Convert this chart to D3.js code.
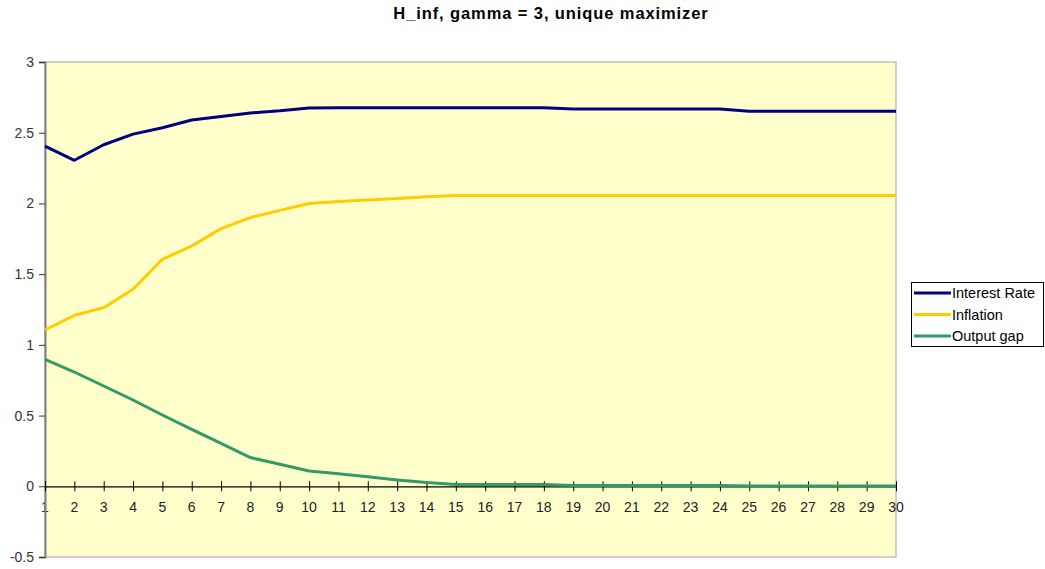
<!DOCTYPE html>
<html><head><meta charset="utf-8">
<script src="https://cdn.jsdelivr.net/npm/d3@7"></script>
<style>body{margin:0;background:#fff;} text{font-family:"Liberation Sans",Arial,sans-serif;}</style>
</head><body>
<svg id="c" width="1045" height="569"></svg>
<script>
const periods = d3.range(1, 31);
const interestRate = [2.405,2.305,2.415,2.49,2.535,2.59,2.615,2.64,2.655,2.675,2.677,2.677,2.677,2.677,2.677,2.677,2.677,2.677,2.668,2.668,2.668,2.668,2.668,2.668,2.652,2.652,2.652,2.652,2.652,2.652];
const inflation = [1.105,1.209,1.263,1.393,1.605,1.699,1.822,1.9,1.951,1.999,2.013,2.025,2.034,2.048,2.056,2.056,2.056,2.056,2.056,2.056,2.056,2.056,2.056,2.056,2.056,2.056,2.056,2.056,2.056,2.056];
const outputGap = [0.898,0.808,0.709,0.61,0.504,0.403,0.304,0.203,0.156,0.108,0.088,0.068,0.045,0.026,0.013,0.013,0.013,0.013,0.006,0.006,0.006,0.006,0.006,0.006,0.002,0.002,0.002,0.002,0.002,0.002];
const yTicks = [-0.5,0,0.5,1,1.5,2,2.5,3];
const seriesNames = ["Interest Rate","Inflation","Output gap"];
const seriesColors = ["#000080","#FFCC00","#339966"];
const title = "H_inf, gamma = 3, unique maximizer";

const svg = d3.select("#c");
const L = 45, R = 896, T = 62, B = 557;
const x = d3.scaleLinear().domain([1,30]).range([L,R]);
const y = d3.scaleLinear().domain([-0.5,3]).range([B,T]);

svg.append("text").attr("x",551).attr("y",19).attr("text-anchor","middle")
  .attr("font-size",16.5).attr("letter-spacing",0.9).attr("font-weight","bold").text(title);

// plot area
svg.append("rect").attr("x",L).attr("y",T).attr("width",R-L).attr("height",B-T)
  .attr("fill","#FFFFCC").attr("stroke","#C0C0C0").attr("stroke-width",1.5);

// x axis labels (drawn before axis lines so lines overlay)
const xa = svg.append("g");
xa.selectAll("text").data(periods).join("text")
  .attr("x",d=>x(d)).attr("y",512).attr("text-anchor","middle")
  .attr("font-size",14).attr("fill","#222").text(d=>d);

// y axis
const yAxis = d3.axisLeft(y).tickValues(yTicks).tickSize(6).tickFormat(d=>String(d));
const ga = svg.append("g").attr("transform",`translate(${L},0)`).call(yAxis);
ga.select(".domain").attr("stroke","#808080").attr("stroke-width",2);
ga.selectAll(".tick line").attr("stroke","#333");
ga.selectAll(".tick text").attr("font-size",14).attr("fill","#333")
  .attr("font-family","Liberation Sans, Arial, sans-serif").attr("x",-11);

// x axis at y=0
const xAxis = d3.axisBottom(x).tickValues(periods).tickSize(0).tickFormat("");
const gx = svg.append("g").attr("transform",`translate(0,${y(0)})`).call(xAxis);
gx.select(".domain").attr("stroke","#000").attr("stroke-width",1.2);
gx.selectAll(".tick").append("line").attr("y1",-5).attr("y2",5).attr("stroke","#000");

// lines
const all = [interestRate, inflation, outputGap];
const line = d3.line().x((d,i)=>x(periods[i])).y(d=>y(d));
all.forEach((vals,k)=>{
  svg.append("path").datum(vals).attr("d",line).attr("fill","none")
    .attr("stroke",seriesColors[k]).attr("stroke-width",3).attr("stroke-linejoin","round");
});

// legend
const lg = svg.append("g");
lg.append("rect").attr("x",911.5).attr("y",282.5).attr("width",132).attr("height",64)
  .attr("fill","#fff").attr("stroke","#000");
seriesNames.forEach((n,k)=>{
  const yy = 293 + k*21.5;
  lg.append("line").attr("x1",914).attr("x2",951).attr("y1",yy).attr("y2",yy)
    .attr("stroke",seriesColors[k]).attr("stroke-width",3);
  lg.append("text").attr("x",952).attr("y",yy+5).attr("font-size",14.5).attr("fill","#000").text(n);
});
</script>
</body></html>
